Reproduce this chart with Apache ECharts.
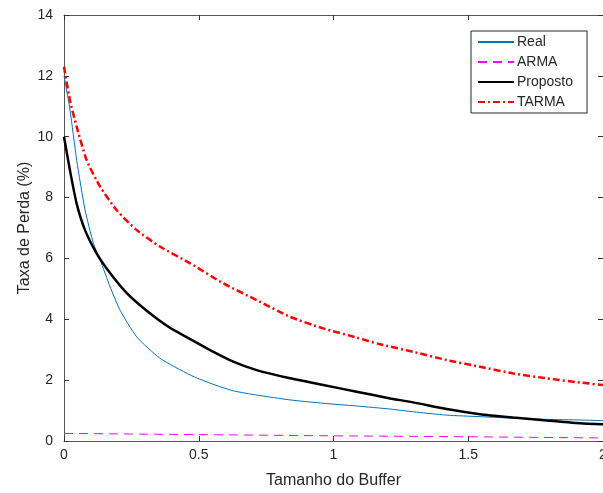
<!DOCTYPE html>
<html>
<head>
<meta charset="utf-8">
<script src="https://cdn.jsdelivr.net/npm/echarts@6/dist/echarts.min.js"></script>
<style>
  html, body { margin: 0; padding: 0; background: #fff; }
  #main { width: 603px; height: 493px; }
</style>
</head>
<body>
<div id="main"></div>
<script>
// values
const realX = [0, 0.022, 0.047, 0.078, 0.109, 0.134, 0.171, 0.208, 0.27, 0.356, 0.468, 0.542, 0.628, 0.715, 0.839, 0.962, 1.086, 1.21, 1.296, 1.42, 1.544, 1.667, 1.791, 1.915, 2];
const realY = [12.0, 10.9, 9.23, 7.6, 6.5, 5.95, 5.07, 4.3, 3.42, 2.72, 2.17, 1.9, 1.65, 1.51, 1.35, 1.24, 1.15, 1.05, 0.96, 0.85, 0.8, 0.75, 0.71, 0.69, 0.67];

const armaX = [0, 0.5, 1, 1.5, 2];
const armaY = [0.25, 0.21, 0.17, 0.14, 0.1];

const propX = [0, 0.022, 0.047, 0.078, 0.121, 0.171, 0.233, 0.307, 0.393, 0.468, 0.542, 0.628, 0.715, 0.839, 0.962, 1.086, 1.21, 1.296, 1.42, 1.544, 1.667, 1.791, 1.915, 2];
const propY = [10, 8.9, 7.8, 6.93, 6.17, 5.52, 4.86, 4.28, 3.72, 3.35, 2.99, 2.61, 2.33, 2.06, 1.84, 1.62, 1.4, 1.27, 1.05, 0.88, 0.77, 0.67, 0.58, 0.55];

const tarmaX = [0, 0.022, 0.047, 0.084, 0.134, 0.195, 0.27, 0.356, 0.468, 0.591, 0.715, 0.839, 0.962, 1.086, 1.173, 1.296, 1.42, 1.544, 1.667, 1.791, 1.915, 2];
const tarmaY = [12.3, 11.2, 10.33, 9.23, 8.36, 7.59, 6.93, 6.39, 5.84, 5.18, 4.63, 4.08, 3.7, 3.4, 3.18, 2.93, 2.66, 2.44, 2.22, 2.06, 1.92, 1.84];

const pairs = (xs, ys) => xs.map((x, i) => [x, ys[i]]);

const font = '"Liberation Sans", Arial, sans-serif';
const axisColor = '#555';
const textColor = '#262626';

const chart = echarts.init(document.getElementById('main'));

const baseAxis = {
  type: 'value',
  axisLine: { show: true, onZero: false, lineStyle: { color: axisColor, width: 1 } },
  axisTick: { show: true, inside: true, length: 5, lineStyle: { color: '#333' } },
  splitLine: { show: false },
  axisLabel: { color: textColor, fontFamily: font, fontSize: 14 }
};

chart.setOption({
  animation: false,
  textStyle: { fontFamily: font },
  grid: { left: 64, right: 0, top: 15, bottom: 52, outerBoundsMode: 'none' },
  legend: {
    orient: 'vertical',
    left: 471,
    top: 31,
    padding: [4, 14, 4, 6],
    itemGap: 6,
    itemWidth: 36,
    itemHeight: 14,
    backgroundColor: '#fff',
    borderColor: '#262626',
    borderWidth: 1,
    borderRadius: 0,
    itemStyle: { opacity: 0 },
    textStyle: { color: textColor, fontSize: 14, fontFamily: font, padding: [0, 0, 0, -2] },
    data: ['Real', 'ARMA', 'Proposto', 'TARMA']
  },
  xAxis: [
    Object.assign({}, baseAxis, {
      min: 0, max: 2, interval: 0.5,
      name: 'Tamanho do Buffer',
      nameLocation: 'middle',
      nameGap: 32,
      nameMoveOverlap: false,
      nameTextStyle: { color: textColor, fontSize: 16, fontFamily: font },
      axisLabel: Object.assign({}, baseAxis.axisLabel, { margin: 7 })
    }),
    Object.assign({}, baseAxis, {
      min: 0, max: 2, interval: 0.5, position: 'top',
      axisLabel: { show: false }
    })
  ],
  yAxis: [
    Object.assign({}, baseAxis, {
      min: 0, max: 14, interval: 2,
      name: 'Taxa de Perda (%)',
      nameLocation: 'middle',
      nameGap: 31,
      nameMoveOverlap: false,
      nameTextStyle: { color: textColor, fontSize: 16, fontFamily: font },
      axisLabel: Object.assign({}, baseAxis.axisLabel, { margin: 11 })
    }),
    Object.assign({}, baseAxis, {
      min: 0, max: 14, interval: 2, position: 'right',
      axisLabel: { show: false }
    })
  ],
  series: [
    {
      name: 'Real', type: 'line', data: pairs(realX, realY),
      showSymbol: false, symbol: 'none', smooth: 0.2,
      lineStyle: { color: '#0072BD', width: 1 }, itemStyle: { color: '#0072BD' }
    },
    {
      name: 'ARMA', type: 'line', data: pairs(armaX, armaY),
      showSymbol: false, symbol: 'none',
      lineStyle: { color: '#FF00FF', width: 1, type: [9, 6] }, itemStyle: { color: '#FF00FF' }
    },
    {
      name: 'Proposto', type: 'line', data: pairs(propX, propY),
      showSymbol: false, symbol: 'none', smooth: 0.2,
      lineStyle: { color: '#000', width: 2.5 }, itemStyle: { color: '#000' }
    },
    {
      name: 'TARMA', type: 'line', data: pairs(tarmaX, tarmaY),
      showSymbol: false, symbol: 'none', smooth: 0.2,
      lineStyle: { color: '#FF0000', width: 2.5, type: [7, 3, 2, 3] }, itemStyle: { color: '#FF0000' }
    }
  ]
});
</script>
</body>
</html>
